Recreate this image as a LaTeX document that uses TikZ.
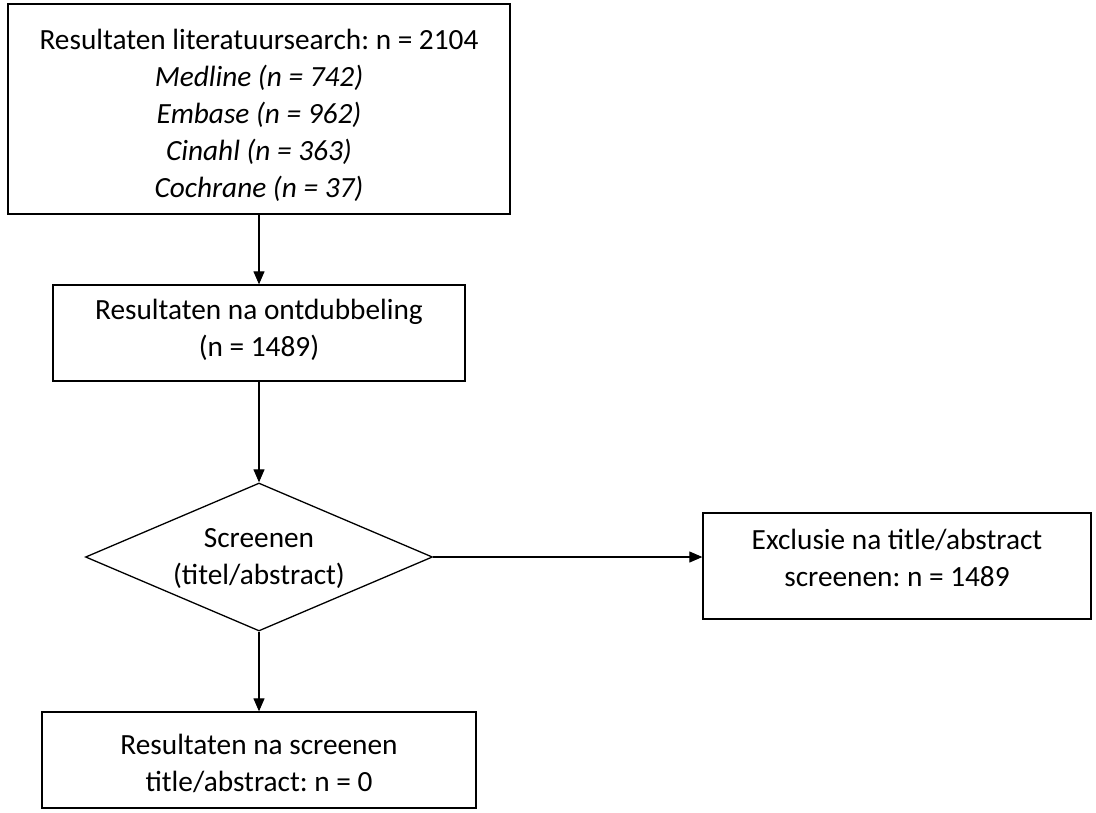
\documentclass[tikz,border=0pt]{standalone}
\usepackage{fontspec}
\setmainfont{Carlito}
\frenchspacing
\usetikzlibrary{shapes.geometric,arrows.meta}
\begin{document}
\begin{tikzpicture}[x=1pt,y=-1pt,
  box/.style={draw,line width=1.3pt,inner sep=0pt},
  txt/.style={align=center,inner sep=0pt,font=\fontsize{29.3}{37}\selectfont},
  arr/.style={line width=1.1pt,-{Triangle[length=13pt,width=11pt]}}]
\useasboundingbox (0,0) rectangle (1096,812);
\node[box,minimum width=502pt,minimum height=210pt] (a) at (259,109) {};
\node[txt] (at) at (259,115) {Resultaten literatuursearch: n = 2104\\\itshape Medline (n = 742)\\\itshape Embase (n = 962)\\\itshape Cinahl (n = 363)\\\itshape Cochrane (n = 37)};
\node[box,minimum width=412pt,minimum height=96pt] (b) at (259,333) {};
\node[txt] (bt) at (259,330) {Resultaten na ontdubbeling\\(n = 1489)};
\node[box,diamond,aspect=2.35,minimum width=347pt,minimum height=148pt] (c) at (259,557) {};
\node[txt] (ct) at (259,559) {Screenen\\(titel/abstract)};
\node[box,minimum width=388pt,minimum height=106pt] (d) at (897,566) {};
\node[txt] (dt) at (897,558) {Exclusie na title/abstract\\screenen: n = 1489};
\node[box,minimum width=434pt,minimum height=96pt] (e) at (259,760) {};
\node[txt] (et) at (259,763) {Resultaten na screenen\\title/abstract: n = 0};
\draw[arr] (a.south) -- (b.north);
\draw[arr] (b.south) -- (c.north);
\draw[arr] (c.east) -- (c.east -| d.west);
\draw[arr] (c.south) -- (e.north);
\end{tikzpicture}
\end{document}
